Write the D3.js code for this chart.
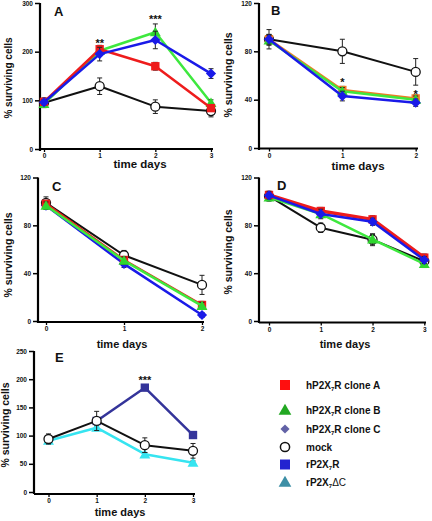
<!DOCTYPE html>
<html><head><meta charset="utf-8">
<script src="https://cdn.jsdelivr.net/npm/d3@7"></script>
<style>
body{margin:0;background:#fff}
svg{display:block}
text{font-family:"Liberation Sans",Arial,Helvetica,sans-serif;font-weight:bold;fill:#111}
</style>
</head><body>
<svg id="c" width="432" height="521"></svg>
<script>
// ---------- data ----------
const days3 = [0, 1, 2];
const days4 = [0, 1, 2, 3];
const yTicksA = [0, 100, 200, 300];
const yTicks120 = [0, 40, 80, 120];
const yTicksE = [0, 50, 100, 150, 200, 250];

// Panel A
const A_cloneA = [97, 205, 170, 84],  A_cloneA_err = [5, 8, 8, 6];
const A_cloneB = [93, 202, 240, 95],  A_cloneB_err = [5, 8, 17, 6];
const A_cloneC = [96, 195, 224, 155], A_cloneC_err = [5, 14, 18, 10];
const A_mock   = [95, 129, 87, 78],   A_mock_err   = [10, 17, 14, 12];
const A_stars  = [{day: 1, value: 222, text: "**"}, {day: 2, value: 272, text: "***"}];

// Panel B
const B_cloneA = [90, 48, 41],   B_cloneA_err = [4, 3, 3];
const B_cloneB = [89, 47, 40],   B_cloneB_err = [4, 3, 3];
const B_cloneC = [90, 43, 37.5], B_cloneC_err = [4, 4, 3];
const B_mock   = [90, 80, 63],   B_mock_err   = [8, 10, 11];
const B_stars  = [{day: 1, value: 56, text: "*"}, {day: 2, value: 46, text: "*"}];

// Panel C
const C_cloneA = [98, 51, 13.4], C_cloneA_err = [3, 3, 3];
const C_cloneB = [96.5, 50.5, 12.6], C_cloneB_err = [3, 3, 3];
const C_cloneC = [96.5, 47.8, 5], C_cloneC_err = [3, 3, 2];
const C_mock   = [98.8, 55, 30.2], C_mock_err  = [5, 4, 8];
const C_stars  = [];

// Panel D
const D_cloneA = [105.4, 92, 85, 53],  D_cloneA_err = [3, 3, 3, 3];
const D_cloneB = [103.4, 89.5, 68.3, 47.7], D_cloneB_err = [3, 3, 4, 3];
const D_cloneC = [105, 89.5, 83, 51],  D_cloneC_err = [3, 4, 3, 3];
const D_mock   = [104.5, 78, 68, 50],  D_mock_err   = [4, 4, 5, 3];
const D_stars  = [];

// Panel E
const E_rP2X7R = [94, 126, 185, 101], E_rP2X7R_err = [0, 0, 3, 3];
const E_mock   = [94, 126, 83, 73],   E_mock_err   = [9, 17, 13, 13];
const E_dC     = [91, 114, 67, 52],   E_dC_err     = [3, 3, 3, 3];
const E_stars  = [{day: 2, value: 202, text: "***"}];

// Legend
const legendLabels = [
  ["hP2X", "7", "R clone A"],
  ["hP2X", "7", "R clone B"],
  ["hP2X", "7", "R clone C"],
  ["mock", "", ""],
  ["rP2X", "7", "R"],
  ["rP2X", "7", "\u0394C"]
];

// ---------- styles ----------
const RED = "#ee1c1c", GREEN = "#3ee83e", BLUE = "#1a1ae8", NAVY = "#34349a", CYAN = "#36e4f0", ORANGE = "#f07a26";

const svg = d3.select("#c");

const sym = {
  square: d3.symbol().type(d3.symbolSquare).size(70),
  triangle: d3.symbol().type(d3.symbolTriangle).size(52),
  diamond: d3.symbol().type(d3.symbolSquare).size(52)
};

function drawPanel(p) {
  const g = svg.append("g");
  const x = d3.scaleLinear().domain([0, p.days.length - 1]).range(p.xr);
  const y = d3.scaleLinear().domain([0, p.yTicks[p.yTicks.length - 1]]).range(p.yr);

  // y axis
  const yAxis = d3.axisLeft(y).tickValues(p.yTicks).tickSize(5).tickPadding(2).tickFormat(d3.format("d"));
  const ya = g.append("g").attr("transform", `translate(${p.ax},0)`).call(yAxis);
  ya.select(".domain").attr("stroke-width", 2.2).attr("d", `M0,${p.yr[1]}V${p.yr[0] + 2}`);
  ya.selectAll(".tick line").attr("stroke-width", 1.5);
  ya.selectAll(".tick text").style("font-size", "6.5px").style("font-weight", "bold").attr("fill", "#222");

  // x axis
  const xAxis = d3.axisBottom(x).tickValues(p.days).tickSize(3).tickPadding(1.5).tickFormat(d3.format("d"));
  const xa = g.append("g").attr("transform", `translate(0,${p.axY})`).call(xAxis);
  xa.select(".domain").attr("stroke-width", 2.2).attr("d", `M${p.ax},0H${p.axEnd}`);
  xa.selectAll(".tick line").attr("stroke-width", 1.3);
  xa.selectAll(".tick text").style("font-size", "6.5px").style("font-weight", "bold").attr("fill", "#222");

  // labels
  g.append("text").attr("x", p.xl[0]).attr("y", p.xl[1]).attr("text-anchor", "middle")
    .style("font-size", p.xlSize + "px").text("time days");
  g.append("text").attr("transform", `translate(${p.yl[0]},${p.yl[1]}) rotate(-90)`)
    .attr("text-anchor", "middle").style("font-size", p.ylSize + "px").text("% surviving cells");
  g.append("text").attr("x", p.letter[0]).attr("y", p.letter[1])
    .style("font-size", "13px").text(p.name);

  p.series.forEach(s => {
    const sg = g.append("g");
    const vals = s.values;
    const startIdx = s.start || 0;
    sg.append("path").datum(vals.slice(startIdx))
      .attr("d", d3.line().x((d, i) => x(p.days[i + startIdx])).y(d => y(d)))
      .attr("fill", "none").attr("stroke", s.color).attr("stroke-width", s.lw || 2.5)
      .attr("stroke-linejoin", "round");
    // error bars
    vals.forEach((v, i) => {
      const e = s.err[i];
      if (!e) return;
      const cx = x(p.days[i]);
      sg.append("path")
        .attr("d", `M${cx},${y(v - e)}V${y(v + e)}M${cx - 2.5},${y(v - e)}H${cx + 2.5}M${cx - 2.5},${y(v + e)}H${cx + 2.5}`)
        .attr("stroke", "#222").attr("stroke-width", 1).attr("fill", "none");
    });
    // markers
    vals.forEach((v, i) => {
      if (i < startIdx) return;
      const cx = x(p.days[i]), cy = y(v);
      if (s.shape === "circle") {
        sg.append("circle").attr("cx", cx).attr("cy", cy).attr("r", 4.5)
          .attr("fill", "#fff").attr("stroke", "#111").attr("stroke-width", 1.3);
      } else {
        const rot = s.shape === "diamond" ? 45 : 0;
        sg.append("path").attr("d", sym[s.shape]())
          .attr("transform", `translate(${cx},${cy + (s.shape === "triangle" ? 1 : 0)}) rotate(${rot})`)
          .attr("fill", s.mcolor || s.color);
      }
    });
  });

  p.stars.forEach(st => {
    g.append("text").attr("x", x(st.day)).attr("y", y(st.value) + 6)
      .attr("text-anchor", "middle").style("font-size", "11px").attr("fill", "#333").text(st.text);
  });
}

drawPanel({
  name: "A", days: days4, yTicks: yTicksA,
  xr: [44, 211], yr: [149, 3], ax: 40, axEnd: 213, axY: 149,
  xl: [140, 168], xlSize: 11.5, yl: [12, 78], ylSize: 10, letter: [54, 16],
  series: [
    {values: A_mock, err: A_mock_err, color: "#111", shape: "circle", lw: 2},
    {values: A_cloneB, err: A_cloneB_err, color: GREEN, shape: "triangle", mcolor: "#2fd62f"},
    {values: A_cloneA, err: A_cloneA_err, color: RED, shape: "square"},
    {values: A_cloneC, err: A_cloneC_err, color: BLUE, shape: "diamond"}
  ],
  stars: A_stars
});

drawPanel({
  name: "B", days: days3, yTicks: yTicks120,
  xr: [269, 415.7], yr: [148, 3], ax: 259, axEnd: 418, axY: 148.5,
  xl: [358, 170], xlSize: 11.5, yl: [232, 75], ylSize: 10.5, letter: [271, 15],
  series: [
    {values: B_mock, err: B_mock_err, color: "#111", shape: "circle", lw: 2},
    {values: B_cloneA, err: B_cloneA_err, color: ORANGE, shape: "square"},
    {values: B_cloneB, err: B_cloneB_err, color: GREEN, shape: "triangle", mcolor: "#2fd62f"},
    {values: B_cloneC, err: B_cloneC_err, color: BLUE, shape: "diamond"}
  ],
  stars: B_stars
});

drawPanel({
  name: "C", days: days3, yTicks: yTicks120,
  xr: [46, 202], yr: [321, 177.5], ax: 38, axEnd: 204, axY: 322,
  xl: [122, 348], xlSize: 11, yl: [12, 255], ylSize: 10.5, letter: [52, 191],
  series: [
    {values: C_cloneC, err: C_cloneC_err, color: BLUE, shape: "diamond"},
    {values: C_mock, err: C_mock_err, color: "#111", shape: "circle", lw: 2},
    {values: C_cloneA, err: C_cloneA_err, color: RED, shape: "square"},
    {values: C_cloneB, err: C_cloneB_err, color: GREEN, shape: "triangle", mcolor: "#2fd62f"}
  ],
  stars: C_stars
});

drawPanel({
  name: "D", days: days4, yTicks: yTicks120,
  xr: [269, 424.3], yr: [321, 177.5], ax: 259, axEnd: 426, axY: 322.5,
  xl: [345, 348], xlSize: 11, yl: [232, 252], ylSize: 10.5, letter: [277, 190],
  series: [
    {values: D_mock, err: D_mock_err, color: "#111", shape: "circle", lw: 2},
    {values: D_cloneB, err: D_cloneB_err, color: GREEN, shape: "triangle", mcolor: "#2fd62f"},
    {values: D_cloneA, err: D_cloneA_err, color: RED, shape: "square", lw: 3.5},
    {values: D_cloneC, err: D_cloneC_err, color: BLUE, shape: "diamond"}
  ],
  stars: D_stars
});

drawPanel({
  name: "E", days: days4, yTicks: yTicksE,
  xr: [48.5, 193], yr: [492, 351], ax: 34, axEnd: 195, axY: 494,
  xl: [120, 516], xlSize: 11, yl: [9, 425], ylSize: 10.5, letter: [55, 362],
  series: [
    {values: E_rP2X7R, err: E_rP2X7R_err, color: NAVY, shape: "square", start: 1},
    {values: E_dC, err: E_dC_err, color: CYAN, shape: "triangle"},
    {values: E_mock, err: E_mock_err, color: "#111", shape: "circle", lw: 2}
  ],
  stars: E_stars
});

// ---------- legend ----------
const legendShapes = ["square", "triangle", "diamond", "circle", "square", "triangle"];
const legendColors = ["#ff0f0f", "#22a822", "#6262a6", "#fff", "#2424d0", "#3d8fa6"];
const legendY = [385, 410, 429, 447, 464.5, 482];
const lg = svg.append("g");
legendLabels.forEach((lab, i) => {
  const cy = legendY[i], cx = 285;
  const shp = legendShapes[i];
  if (shp === "circle") {
    lg.append("circle").attr("cx", cx).attr("cy", cy).attr("r", 4.6)
      .attr("fill", "#fff").attr("stroke", "#111").attr("stroke-width", 1.5);
  } else {
    const size = shp === "square" ? 100 : shp === "triangle" ? 70 : 42;
    lg.append("path").attr("d", d3.symbol().type(shp === "triangle" ? d3.symbolTriangle : d3.symbolSquare).size(size)())
      .attr("transform", `translate(${cx},${cy + (shp === "triangle" ? 1 : 0)}) rotate(${shp === "diamond" ? 45 : 0})`)
      .attr("fill", legendColors[i]);
  }
  const t = lg.append("text").attr("x", 306).attr("y", cy + 3.5).style("font-size", "10px").attr("fill", "#333");
  t.append("tspan").text(lab[0]);
  if (lab[1]) {
    t.append("tspan").attr("dy", 2).style("font-size", "6px").text(lab[1]);
    const last = t.append("tspan").attr("dy", -2).text(lab[2]);
    if (lab[2] === "\u0394C") last.style("font-weight", "normal");
  }
});
</script>
</body></html>
